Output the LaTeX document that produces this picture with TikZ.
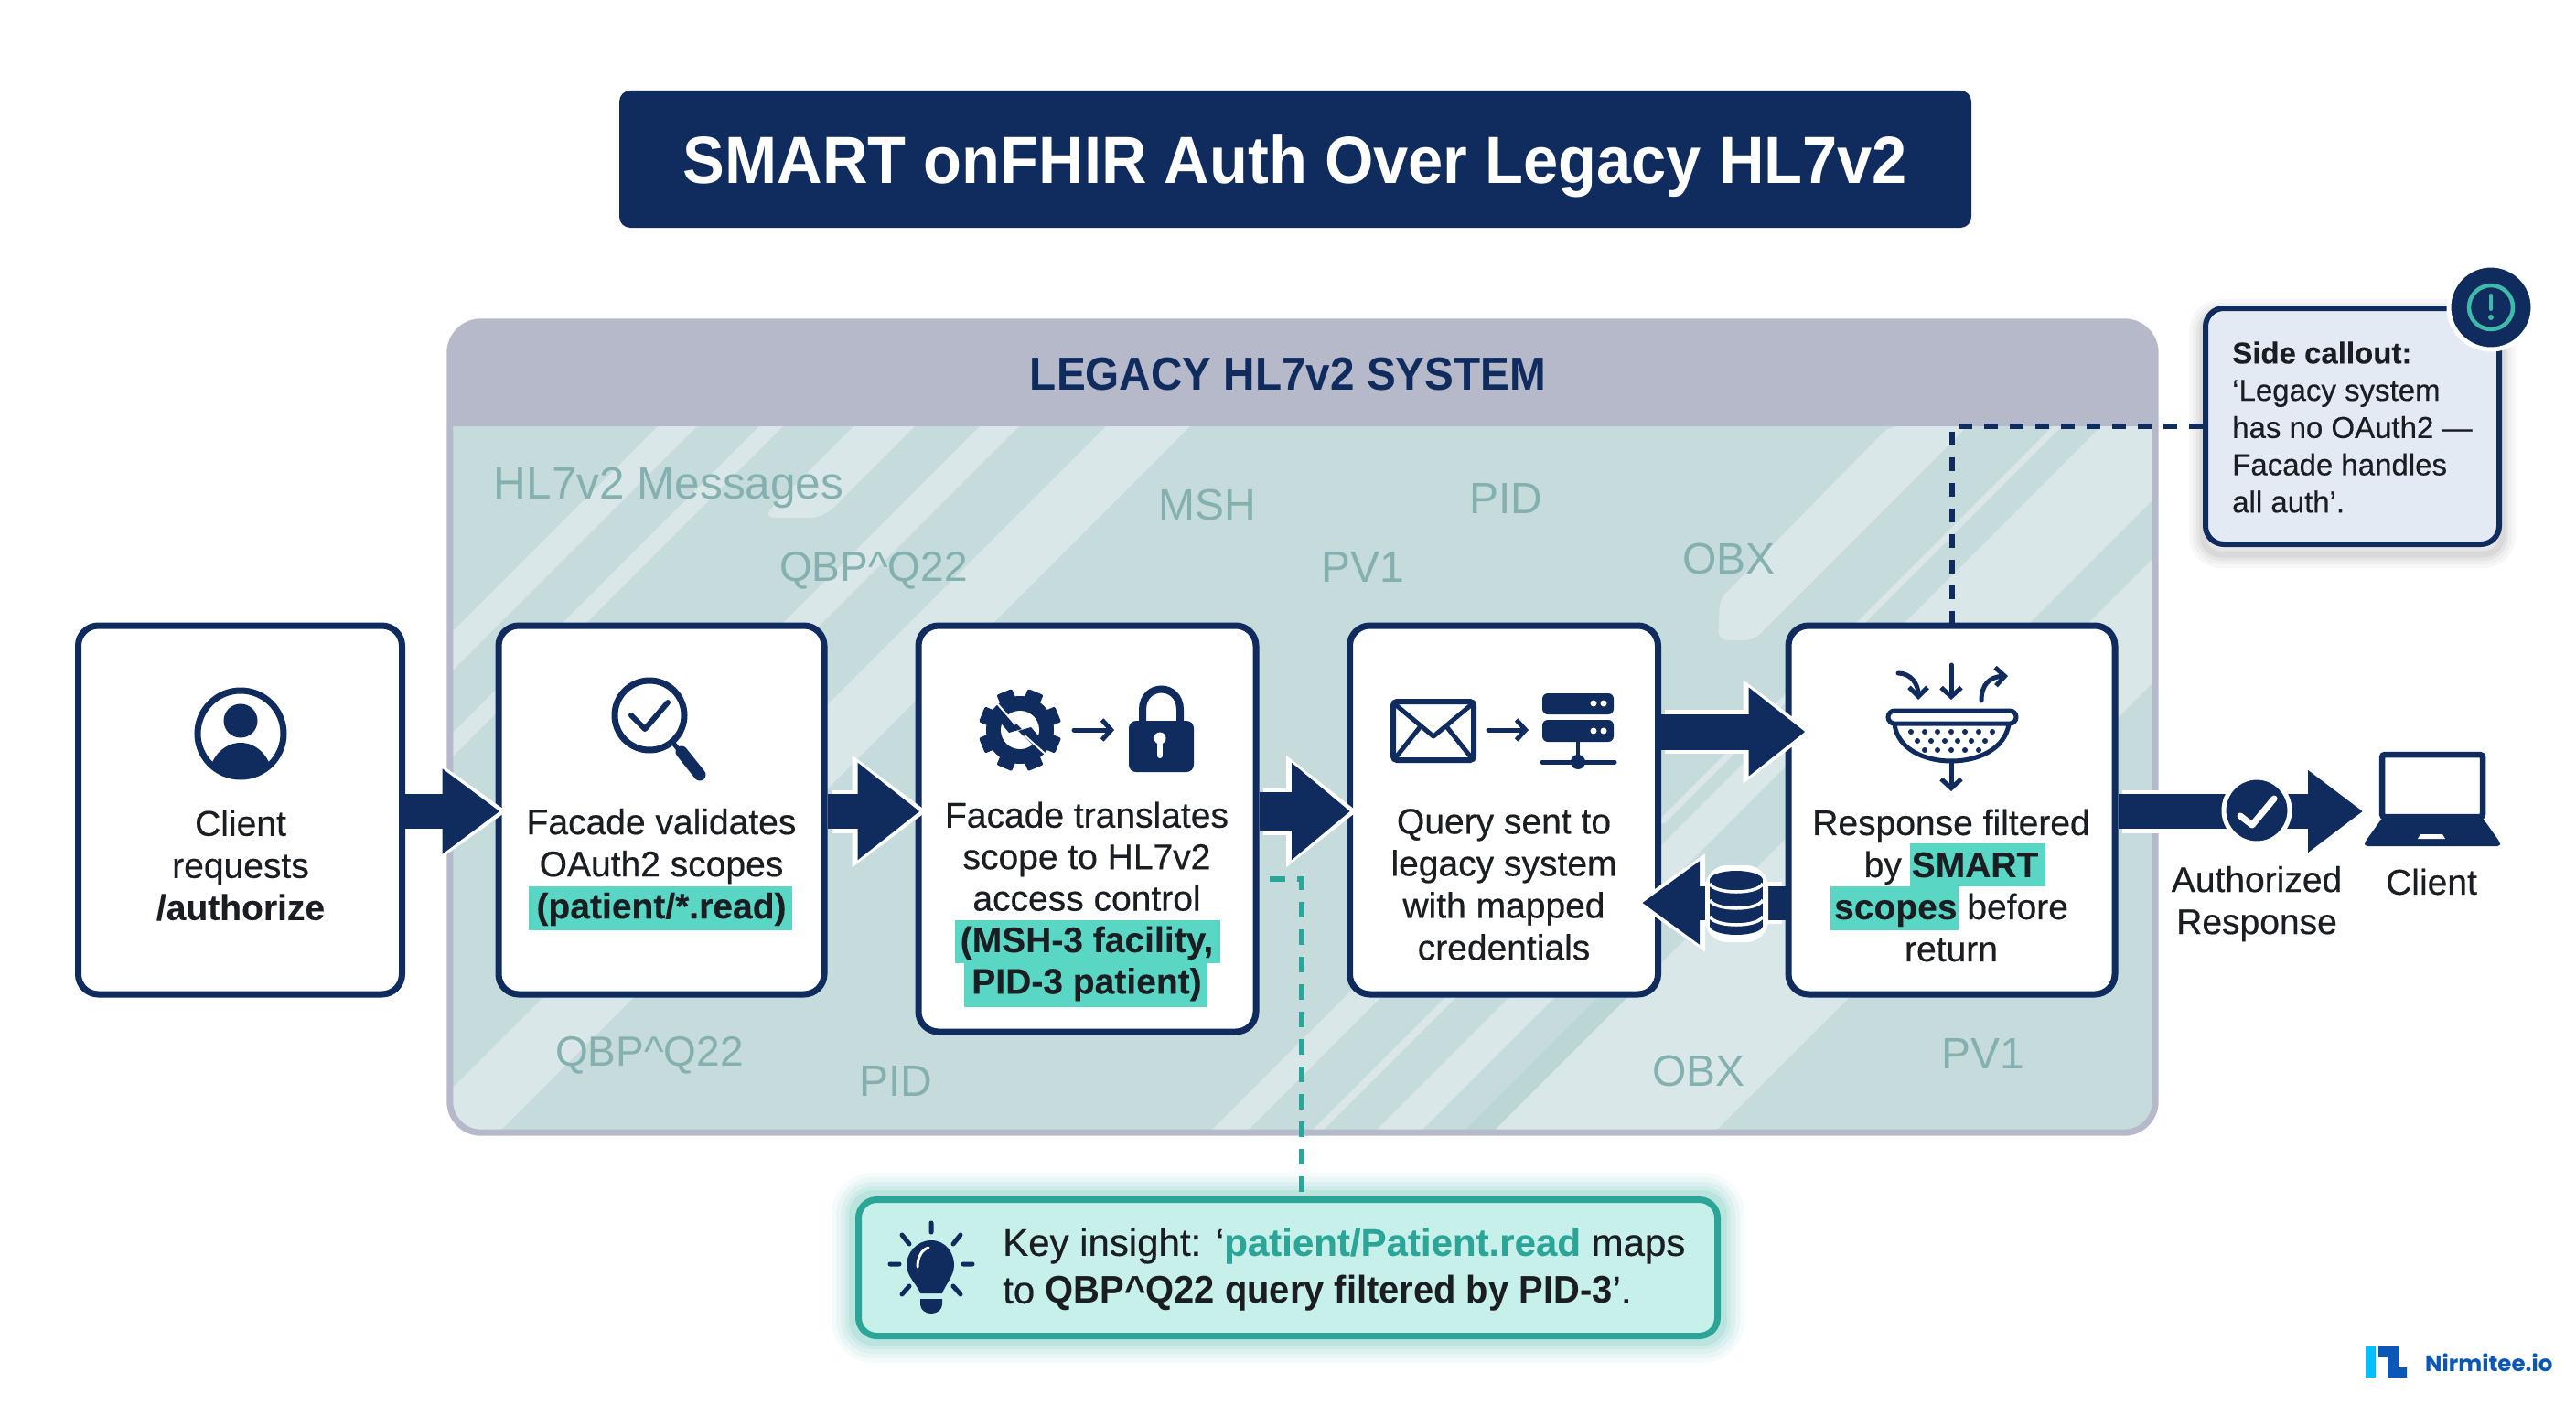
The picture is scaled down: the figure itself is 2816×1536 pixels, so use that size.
\documentclass[tikz,border=0pt]{standalone}
\usepackage{fontspec}
\setmainfont{Liberation Sans}
\newfontfamily\condfont{Liberation Sans}[FakeStretch=0.94]
\newfontfamily\narrowfont{Liberation Sans}[FakeStretch=0.95]
\newfontfamily\medfont{Liberation Sans}[FakeBold=0.4,BoldFeatures={FakeBold=0.01}]
\newfontfamily\logofont{Poppins}
\usetikzlibrary{arrows.meta,calc}
\definecolor{navy}{HTML}{102B5E}
\definecolor{ink}{HTML}{1A1D22}
\definecolor{bodycol}{HTML}{C6DBDB}
\definecolor{stripecol}{HTML}{D9E7E8}
\definecolor{bandcol}{HTML}{BAD7D6}
\definecolor{headcol}{HTML}{B6B9C9}
\definecolor{wm}{HTML}{84B1AF}
\definecolor{hl}{HTML}{5AD6C4}
\definecolor{tealdark}{HTML}{2BA598}
\definecolor{insightfill}{HTML}{C7F0EA}
\definecolor{calloutfill}{HTML}{E3EAF4}
\definecolor{logolight}{HTML}{00BFFF}
\definecolor{logodark}{HTML}{0B57B5}
\tikzset{
  stepbox/.style={draw=navy,fill=white,line width=7pt,rounded corners=22pt,inner sep=0pt},
  steptext/.style={align=center,text=ink,inner sep=0pt,font=\medfont\fontsize{39pt}{46pt}\selectfont},
  wmark/.style={text=wm,inner sep=0pt,font=\fontsize{48pt}{50pt}\selectfont},
  navydash/.style={draw=navy,line width=6pt,dash pattern=on 15pt off 13pt},
  tealdash/.style={draw=tealdark,line width=6pt,dash pattern=on 17pt off 13pt},
  icon/.style={draw=navy,line width=5pt,line cap=round,line join=round},
  openarrow/.style={icon,-{Straight Barb[length=10pt,width=22pt]}},
}
\newcommand\stripe[4]{\fill[stripecol] (#1-#3,#3) -- (#2-#3,#3) -- (#2-#4,#4) -- (#1-#4,#4) -- cycle;}
\newcommand\flowarrow[5]{%
  \pgfmathsetmacro\haloshaft{#3+9}\pgfmathsetmacro\halolen{#4+14}\pgfmathsetmacro\halowid{#5+15}%
  \draw[white,line width=\haloshaft pt,shorten <=4pt,shorten >=-8pt,-{Triangle[length=\halolen pt,width=\halowid pt]}] #1 -- #2;
  \draw[navy,line width=#3pt,-{Triangle[length=#4pt,width=#5pt]}] #1 -- #2;
}
\begin{document}
\begin{tikzpicture}[x=1pt,y=-1pt]
\useasboundingbox (0,0) rectangle (2816,1536);
\fill[white] (0,0) rectangle (2816,1536);

% title
\node[fill=navy,rounded corners=12pt,minimum width=1478pt,minimum height=150pt,inner sep=0pt] (title) at (1416,174) {};
\node[text=white,inner sep=0pt,font=\condfont\bfseries\fontsize{73pt}{76pt}\selectfont] (titlet) at (1416,182) {SMART onFHIR Auth Over Legacy HL7v2};

% legacy container
\node[fill=bodycol,rounded corners=34pt,minimum width=1864pt,minimum height=886pt,inner sep=0pt] (legacy) at (1424,795) {};
\begin{scope}
\clip[rounded corners=34pt] (legacy.south west) rectangle (legacy.north east);
\stripe{1185}{1228}{466}{900}
\stripe{1296}{1322}{466}{900}
\fill[stripecol,rounded corners=14pt] (1399-430,430) -- (1466-430,430) -- (1466-566,566) -- (1399-566,566) -- cycle;
\stripe{1537}{1580}{466}{900}
\stripe{1675}{1767}{466}{900}
\fill[stripecol,rounded corners=10pt] (2065,466) -- (2151,466) -- (1917,700) -- (1878,700) -- (1880,655) -- cycle;
\stripe{2710}{2720}{466}{900}
\stripe{2763}{2900}{466}{800}
\stripe{2964}{3100}{466}{800}
\stripe{1684}{1783}{900}{1240}
\stripe{2560}{2600}{900}{1240}
\stripe{2670}{2682}{900}{1240}
\stripe{2740}{2790}{780}{1240}
\stripe{2869}{3112}{900}{1240}
\fill[bandcol] (2837-1085,1085) -- (2869-1085,1085) -- (2869-1240,1240) -- (2837-1240,1240) -- cycle;
\fill[headcol] (490,350) rectangle (2358,466);
\end{scope}
\draw[headcol,line width=7pt,rounded corners=34pt] (legacy.south west) rectangle (legacy.north east);
\node[text=navy,inner sep=0pt,font=\condfont\bfseries\fontsize{50.7pt}{54pt}\selectfont] (legacyt) at (1408,409) {LEGACY HL7v2 SYSTEM};

% watermark labels
\node[wmark,font=\fontsize{49.5pt}{50pt}\selectfont] (w1) at (731,533) {HL7v2 Messages};
\node[wmark] (w2) at (1320,552) {MSH};
\node[wmark] (w3) at (1646,545) {PID};
\node[wmark,font=\fontsize{46pt}{50pt}\selectfont] (w4) at (955,624) {QBP\textasciicircum Q22};
\node[wmark] (w5) at (1490,620) {PV1};
\node[wmark] (w6) at (1890,611) {OBX};
\node[wmark,font=\fontsize{46pt}{50pt}\selectfont] (w7) at (710,1154) {QBP\textasciicircum Q22};
\node[wmark] (w8) at (979,1182) {PID};
\node[wmark] (w9) at (1857,1171) {OBX};
\node[wmark] (w10) at (2168,1152) {PV1};

% step boxes
\node[stepbox,minimum width=354pt,minimum height=403pt] (b1) at (262.5,885.5) {};
\node[stepbox,minimum width=356pt,minimum height=403pt] (b2) at (723,885.5) {};
\node[stepbox,minimum width=369pt,minimum height=444pt] (b3) at (1188.5,906) {};
\node[stepbox,minimum width=337pt,minimum height=403pt] (b4) at (1644,885.5) {};
\node[stepbox,minimum width=357pt,minimum height=403pt] (b5) at (2133.5,885.5) {};

% highlights
\fill[hl] (578,969) rectangle (866,1017);
\fill[hl] (1044,1006) rectangle (1334,1053);
\fill[hl] (1054,1053) rectangle (1320,1101);
\fill[hl] (2088,922) rectangle (2236,969);
\fill[hl] (2001,969) rectangle (2141,1017);

% step text
\node[steptext] (t1) at (263,946) {Client\\requests\\\textbf{/authorize}};
\node[steptext] (t2) at (723,948) {Facade validates\\OAuth2 scopes\\\textbf{(patient/*.read)}};
\node[steptext,font=\medfont\fontsize{39pt}{45.4pt}\selectfont] (t3) at (1188,985.5) {Facade translates\\scope to HL7v2\\access control\\\textbf{(MSH-3 facility,}\\\textbf{PID-3 patient)}};
\node[steptext] (t4) at (1644,967) {Query sent to\\legacy system\\with mapped\\credentials};
\node[steptext] (t5) at (2133,968) {Response filtered\\by \textbf{SMART}\\\textbf{scopes} before\\return};

% person icon
\begin{scope}
\draw[navy,line width=7pt,fill=white] (263,802) circle [radius=47];
\clip (263,802) circle [radius=47];
\fill[navy] (263,788) circle [radius=18.5];
\fill[navy] (263,852) ellipse [x radius=35, y radius=40];
\end{scope}

% magnifier icon
\draw[navy,line width=7pt] (710,782) circle [radius=38];
\draw[navy,line width=5pt] (734,810) -- (744,822);
\draw[navy,line width=13pt,line cap=round] (745,822) -- (765,847);
\draw[navy,line width=6pt,line cap=round,line join=round] (690,782) -- (705,797) -- (730,768);

% gear and lock icon
\begin{scope}
\fill[navy] (1115,798) circle [radius=37];
\foreach \a in {0,45,90,135} {
  \fill[navy,rounded corners=2pt,rotate around={\a+22.5:(1115,798)}] (1106,753) rectangle (1124,843);
}
\fill[white] (1115,798) circle [radius=21];
\fill[navy] (1095,776) -- (1117,797) -- (1103,801) -- (1092,788) -- cycle;
\fill[navy] (1135,820) -- (1113,799) -- (1127,795) -- (1138,808) -- cycle;
\draw[white,line width=2pt] (1089,768) -- (1110,792);
\draw[white,line width=2pt] (1120,804) -- (1149,830);
\end{scope}
\draw[openarrow] (1174,798) -- (1218,798);
\draw[navy,line width=8pt] (1249,790) -- (1249,776) .. controls (1249,746) and (1290,746) .. (1290,776) -- (1290,790);
\fill[navy,rounded corners=8pt] (1234,788) rectangle (1305,844);
\fill[white] (1268,807) circle [radius=6.5];
\draw[white,line width=6pt,line cap=round] (1268,807) -- (1268,826);

% envelope and server icon
\draw[navy,line width=6pt,rounded corners=4pt,fill=white] (1523,767) rectangle (1611,831);
\draw[navy,line width=5pt,line join=round] (1525,770) -- (1567,805) -- (1609,770);
\draw[navy,line width=5pt] (1525,829) -- (1553,794);
\draw[navy,line width=5pt] (1609,829) -- (1581,794);
\draw[openarrow] (1627,798) -- (1671,798);
\fill[navy,rounded corners=6pt] (1686,758) rectangle (1764,781);
\fill[navy,rounded corners=6pt] (1686,787) rectangle (1764,811);
\fill[white] (1742,769) circle [radius=3.5] (1753,769) circle [radius=3.5] (1742,799) circle [radius=3.5] (1753,799) circle [radius=3.5];
\draw[navy,line width=4pt] (1725,811) -- (1725,833);
\draw[navy,line width=5pt,line cap=round] (1686,833) -- (1765,833);
\fill[navy] (1725,833) circle [radius=8];

% colander icon
\draw[openarrow] (2133,727) -- (2133,765);
\draw[navy,line width=5pt,line cap=round,-{Straight Barb[length=10pt,width=20pt]}] (2075,736) .. controls (2089,736) and (2097,748) .. (2097,765);
\draw[navy,line width=5pt,line cap=round,-{Straight Barb[length=10pt,width=20pt]}] (2166,766) .. controls (2166,748) and (2175,740) .. (2195,739);
\draw[navy,line width=5pt,fill=white] (2071,792) .. controls (2075,820) and (2105,832) .. (2133,832) .. controls (2161,832) and (2191,820) .. (2196,792);
\draw[navy,line width=5pt,fill=white,rounded corners=7pt] (2064,777) rectangle (2204,791);
\foreach \x in {2089,2104,2118,2133,2148,2163,2178} {\fill[navy] (\x,800) circle [radius=3];}
\foreach \x in {2096,2111,2126,2140,2155,2170} {\fill[navy] (\x,810) circle [radius=3];}
\foreach \x in {2104,2118,2133,2148,2163} {\fill[navy] (\x,820) circle [radius=3];}
\draw[openarrow] (2133,832) -- (2133,865);

% block arrows
\flowarrow{([yshift=-1.5pt]b1.east)}{([xshift=5pt,yshift=-1.5pt]b2.west)}{38}{63}{89}
\flowarrow{([yshift=-1.5pt]b2.east)}{([xshift=5pt,yshift=19pt]b3.west)}{38}{68}{102}
\flowarrow{([yshift=19pt]b3.east)}{([xshift=4pt,yshift=-1.5pt]b4.west)}{42}{64}{102}
\flowarrow{([yshift=85.5pt]b4.east)}{([xshift=22pt,yshift=85.5pt]b5.west)}{39}{62}{93}
\flowarrow{([yshift=-101.5pt]b5.west)}{([xshift=-21pt,yshift=-101.5pt]b4.east)}{37}{63}{87}
\coordinate (lapin) at (2583,887);
\flowarrow{([yshift=-1.5pt]b5.east)}{(lapin)}{38}{60}{86}

% database icon
\begin{scope}
\fill[white,rounded corners=24pt] (1864,946) rectangle (1933,1030);
\fill[navy] (1869,962) rectangle (1927,1012);
\fill[navy] (1898,962) ellipse [x radius=29, y radius=10];
\fill[navy] (1898,1012) ellipse [x radius=29, y radius=10];
\draw[white,line width=3.5pt] (1869,966) .. controls (1875,978) and (1921,978) .. (1927,966);
\draw[white,line width=3.5pt] (1869,984) .. controls (1875,996) and (1921,996) .. (1927,984);
\draw[white,line width=3.5pt] (1869,1002) .. controls (1875,1014) and (1921,1014) .. (1927,1002);
\end{scope}

% authorized badge
\fill[navy,draw=white,line width=5pt] (2467,886) circle [radius=36];
\draw[white,line width=7pt,line cap=round,line join=round] (2449,892) -- (2462,902) -- (2486,873);

% laptop
\draw[navy,line width=6.5pt,rounded corners=3pt,fill=white] (2604,825) rectangle (2714,893);
\fill[navy,rounded corners=3pt] (2605,893) -- (2713,893) -- (2733,921) -- (2733,925) -- (2585,925) -- (2585,921) -- cycle;
\fill[white] (2646,912) -- (2670,912) -- (2673,917) -- (2643,917) -- cycle;

% right labels
\node[steptext] (auth) at (2467,988) {Authorized\\Response};
\node[steptext] (client) at (2658,964) {Client};

% side callout
\foreach \w/\o in {30/0.03,22/0.03,14/0.04,7/0.05} {
  \draw[black,opacity=\o,line width=\w pt,rounded corners=20pt] (2408,342) rectangle (2735,606);
}
\node[draw=navy,fill=calloutfill,line width=6pt,rounded corners=20pt,minimum width=321pt,minimum height=258pt,inner sep=0pt] (callout) at (2571.5,466) {};
\node[align=left,anchor=west,inner sep=0pt,text=ink,font=\medfont\fontsize{33pt}{40.7pt}\selectfont] (calloutt) at (2440,467) {\textbf{Side callout:}\\‘Legacy system\\has no OAuth2 —\\Facade handles\\all auth’.};
\fill[navy,draw=white,line width=5pt] (2723,336) circle [radius=46];
\draw[tealdark!60!hl,line width=4.5pt] (2723,336) circle [radius=24];
\draw[tealdark!60!hl,line width=4pt,line cap=round] (2723,323) -- (2723,338);
\fill[tealdark!60!hl] (2723,347) circle [radius=3];

% insight box
\foreach \w/\o in {52/0.05,42/0.06,32/0.07,22/0.09,14/0.12} {
  \draw[tealdark!70!hl,opacity=\o,line width=\w pt,rounded corners=20pt] (935,1308) rectangle (1881,1464);
}
\node[draw=tealdark,fill=insightfill,line width=7pt,rounded corners=20pt,minimum width=939pt,minimum height=149pt,inner sep=0pt] (insight) at (1408,1386) {};
\node[align=left,anchor=west,inner sep=0pt,text=ink,font=\medfont\fontsize{42pt}{52pt}\selectfont] (insightt) at (1096,1388) {Key insight: ‘\textcolor{tealdark}{\textbf{patient/Patient.read}} maps\\to {\narrowfont\bfseries QBP\textasciicircum Q22 query filtered by PID-3}’.};

% dashed connectors
\coordinate (teal0) at (1388,961);
\draw[navydash] (callout.west) -| (b5.north);
\draw[tealdash] (teal0) -| ([xshift=15pt]insight.north);

% bulb
\fill[navy] (1018,1356) .. controls (1002,1356) and (991,1370) .. (991,1383) .. controls (991,1395) and (1003,1405) .. (1006,1414) -- (1030,1414) .. controls (1033,1405) and (1043,1395) .. (1043,1383) .. controls (1043,1370) and (1034,1356) .. (1018,1356) -- cycle;
\fill[navy] (1006,1420) -- (1030,1420) -- (1030,1426) .. controls (1030,1432) and (1024,1436) .. (1018,1436) .. controls (1012,1436) and (1006,1432) .. (1006,1426) -- cycle;
\draw[white,line width=3pt,line cap=round] (1003,1385) .. controls (1003,1374) and (1008,1366) .. (1015,1364);
\draw[navy,line width=5pt,line cap=round] (1018,1337) -- (1018,1347) (986,1350) -- (994,1360) (1050,1350) -- (1042,1360) (973,1382) -- (983,1382) (1053,1382) -- (1063,1382) (986,1415) -- (994,1406) (1050,1415) -- (1042,1406);

% logo
\fill[logolight] (2586,1472) rectangle (2597,1506);
\fill[logodark] (2600,1472) -- (2622,1472) -- (2622,1495) -- (2631,1495) -- (2631,1506) -- (2610,1506) -- (2610,1483) -- (2600,1483) -- cycle;
\node[anchor=west,inner sep=0pt,text=logodark,font=\logofont\bfseries\fontsize{24.5pt}{26pt}\selectfont] (logo) at (2651,1490) {Nirmitee.io};
\end{tikzpicture}
\end{document}
